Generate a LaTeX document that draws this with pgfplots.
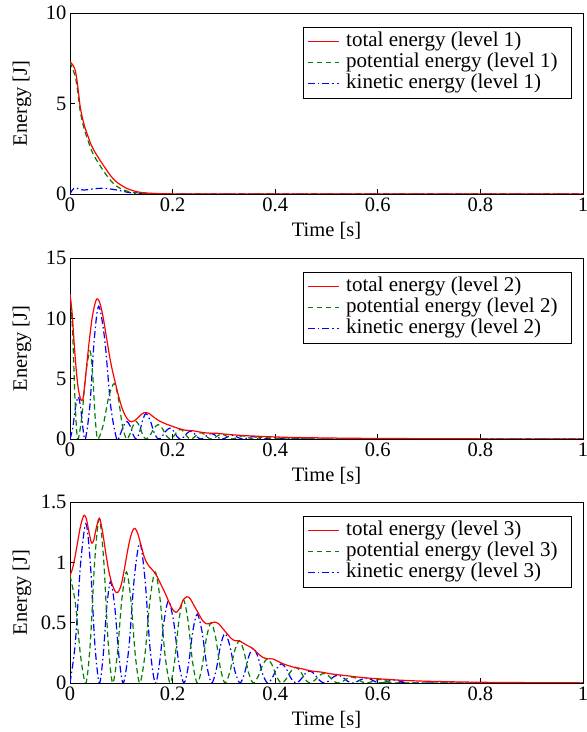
\documentclass[border=0pt]{standalone}
\usepackage{fontspec}
\setmainfont{Liberation Serif}
\usepackage{pgfplots}
\usepackage{pgfplotstable}
\pgfplotsset{compat=1.18}

\definecolor{mred}{rgb}{1,0,0}
\definecolor{mgreen}{rgb}{0,0.5,0}
\definecolor{mblue}{rgb}{0,0,1}

% ---------------- level 1 ----------------
\pgfplotstableread{
t E
0 7.30
0.005 7.15
0.010 6.85
0.014 6.2
0.017 5.5
0.020 4.8
0.025 4.1
0.030 3.6
0.035 3.2
0.040 2.8
0.045 2.5
0.050 2.25
0.060 1.8
0.070 1.38
0.080 0.98
0.090 0.68
0.100 0.48
0.110 0.32
0.120 0.21
0.130 0.13
0.140 0.08
0.160 0.035
0.180 0.015
0.200 0.006
0.250 0.002
0.300 0
1.000 0
}\TotA
\pgfplotstableread{
t E
0 7.30
0.005 6.9
0.010 6.53
0.014 5.87
0.017 5.22
0.020 4.55
0.025 3.88
0.030 3.37
0.035 2.96
0.040 2.55
0.045 2.22
0.050 1.96
0.060 1.5
0.070 1.08
0.080 0.72
0.090 0.45
0.100 0.28
0.110 0.17
0.120 0.1
0.130 0.065
0.140 0.045
0.160 0.025
0.180 0.012
0.200 0.005
0.250 0.002
0.300 0
1 0
}\PotA
\pgfplotstableread{
t E
0 0
0.004 0.2
0.008 0.32
0.012 0.33
0.018 0.27
0.025 0.22
0.035 0.24
0.045 0.28
0.055 0.31
0.065 0.31
0.075 0.29
0.085 0.25
0.095 0.2
0.105 0.14
0.115 0.08
0.125 0.04
0.135 0.015
0.150 0.005
0.200 0
1 0
}\KinA

% ---------------- level 2 ----------------
\pgfplotstableread{
t E
0 12.0
0.004 10.5
0.008 8.0
0.012 5.8
0.016 4.2
0.020 3.4
0.022 3.2
0.025 3.3
0.028 4.2
0.033 6.3
0.038 8.3
0.043 10.0
0.048 11.1
0.052 11.6
0.056 11.5
0.060 11.0
0.065 10.0
0.070 8.7
0.077 6.9
0.082 5.8
0.087 4.9
0.092 4.0
0.097 3.2
0.102 2.5
0.107 2.0
0.112 1.65
0.116 1.48
0.120 1.43
0.125 1.5
0.131 1.7
0.138 2.0
0.144 2.17
0.148 2.2
0.154 2.12
0.160 1.92
0.167 1.7
0.175 1.48
0.185 1.28
0.195 1.12
0.205 0.97
0.215 0.83
0.225 0.73
0.233 0.70
0.240 0.68
0.250 0.60
0.260 0.53
0.270 0.49
0.280 0.48
0.288 0.47
0.298 0.42
0.310 0.37
0.325 0.32
0.340 0.28
0.360 0.24
0.380 0.20
0.400 0.17
0.430 0.13
0.460 0.11
0.500 0.085
0.550 0.06
0.600 0.045
0.700 0.025
0.800 0.012
0.900 0.006
1.000 0.003
}\TotB
\pgfplotstableread{
t E
0 12
0.005 9
0.010 3
0.015 0
0.023 1.825
0.031 5.475
0.039 7.3
0.044 5.475
0.049 1.825
0.054 0
0.0647 1.15
0.0753 3.45
0.086 4.6
0.094 3.45
0.102 1.15
0.110 0
0.1163 0.3625
0.1227 1.0875
0.129 1.45
0.1353 1.0875
0.1417 0.3625
0.148 0
0.156 0.3
0.164 0.9
0.172 1.2
0.1797 0.9
0.1873 0.3
0.195 0
0.2017 0.2
0.2083 0.6
0.215 0.8
0.2217 0.6
0.2283 0.2
0.235 0
0.2417 0.13
0.2483 0.39
0.255 0.52
0.2617 0.39
0.2683 0.13
0.275 0
0.282 0.1
0.289 0.3
0.296 0.4
0.3027 0.3
0.3093 0.1
0.316 0
0.323 0.0675
0.330 0.2025
0.337 0.27
0.3437 0.2025
0.3503 0.0675
0.357 0
0.364 0.04
0.371 0.12
0.378 0.16
0.3847 0.12
0.3913 0.04
0.398 0
0.4053 0.0225
0.4127 0.0675
0.42 0.09
0.4267 0.0675
0.4333 0.0225
0.44 0
0.4467 0.0125
0.4533 0.0375
0.46 0.05
0.4667 0.0375
0.4733 0.0125
0.48 0
1 0
}\PotB
\pgfplotstableread{
t E
0 0
0.0053 0.875
0.0107 2.625
0.016 3.5
0.0207 2.625
0.0253 0.875
0.030 0
0.0387 2.75
0.0473 8.25
0.056 11.0
0.0677 8.25
0.0793 2.75
0.091 0
0.0977 0.3625
0.1043 1.0875
0.111 1.45
0.117 1.0875
0.123 0.3625
0.129 0
0.1353 0.525
0.1417 1.575
0.148 2.1
0.156 1.575
0.164 0.525
0.172 0
0.1797 0.225
0.1873 0.675
0.195 0.9
0.2017 0.675
0.2083 0.225
0.215 0
0.2217 0.1625
0.2283 0.4875
0.235 0.65
0.2417 0.4875
0.2483 0.1625
0.255 0
0.2617 0.1125
0.2683 0.3375
0.275 0.45
0.282 0.3375
0.289 0.1125
0.296 0
0.3027 0.075
0.3093 0.225
0.316 0.3
0.323 0.225
0.330 0.075
0.337 0
0.3437 0.05
0.3503 0.15
0.357 0.2
0.364 0.15
0.371 0.05
0.378 0
0.3853 0.03
0.3927 0.09
0.40 0.12
0.4067 0.09
0.4133 0.03
0.42 0
0.4267 0.0175
0.4333 0.0525
0.44 0.07
0.4467 0.0525
0.4533 0.0175
0.46 0
1 0
}\KinB

% ---------------- level 3 ----------------
\pgfplotstableread{
t E
0 0.89
0.005 0.95
0.010 1.05
0.015 1.17
0.020 1.29
0.025 1.37
0.028 1.39
0.032 1.36
0.037 1.25
0.042 1.16
0.046 1.18
0.051 1.28
0.056 1.36
0.059 1.35
0.064 1.24
0.070 1.07
0.076 0.92
0.082 0.82
0.088 0.76
0.093 0.75
0.099 0.8
0.105 0.92
0.112 1.09
0.118 1.21
0.123 1.27
0.127 1.28
0.132 1.24
0.138 1.15
0.145 1.04
0.152 0.98
0.158 0.95
0.164 0.92
0.170 0.88
0.178 0.81
0.186 0.74
0.194 0.66
0.200 0.61
0.207 0.585
0.214 0.62
0.221 0.69
0.228 0.715
0.234 0.70
0.242 0.64
0.250 0.58
0.258 0.52
0.266 0.49
0.274 0.495
0.282 0.505
0.290 0.49
0.298 0.45
0.306 0.41
0.314 0.37
0.322 0.35
0.330 0.35
0.338 0.33
0.346 0.31
0.355 0.29
0.365 0.25
0.375 0.215
0.385 0.20
0.395 0.20
0.405 0.18
0.415 0.16
0.425 0.145
0.437 0.13
0.450 0.12
0.470 0.10
0.490 0.09
0.510 0.075
0.540 0.06
0.570 0.045
0.600 0.035
0.650 0.022
0.700 0.014
0.800 0.006
0.900 0.003
1.000 0.001
}\TotC
\pgfplotstableread{
t E
0 0.89
0.0103 0.6675
0.0207 0.2225
0.031 0
0.0397 0.34
0.0483 1.02
0.057 1.36
0.0657 1.02
0.0743 0.34
0.083 0
0.092 0.23
0.101 0.69
0.110 0.92
0.1187 0.69
0.1273 0.23
0.136 0
0.146 0.23
0.156 0.69
0.166 0.92
0.1757 0.69
0.1853 0.23
0.195 0
0.2037 0.1725
0.2123 0.5175
0.221 0.69
0.230 0.5175
0.239 0.1725
0.248 0
0.257 0.125
0.266 0.375
0.275 0.5
0.284 0.375
0.293 0.125
0.302 0
0.3113 0.0875
0.3207 0.2625
0.33 0.35
0.339 0.2625
0.348 0.0875
0.357 0
0.3663 0.05
0.3757 0.15
0.385 0.2
0.394 0.15
0.403 0.05
0.412 0
0.4213 0.0325
0.4307 0.0975
0.44 0.13
0.449 0.0975
0.458 0.0325
0.467 0
0.4763 0.02
0.4857 0.06
0.495 0.08
0.504 0.06
0.513 0.02
0.522 0
0.5313 0.0125
0.5407 0.0375
0.55 0.05
0.559 0.0375
0.568 0.0125
0.577 0
0.5863 0.0075
0.5957 0.0225
0.605 0.03
0.614 0.0225
0.623 0.0075
0.632 0
1 0
}\PotC
\pgfplotstableread{
t E
0 0
0.0103 0.33
0.0207 0.99
0.031 1.32
0.0397 0.99
0.0483 0.33
0.057 0
0.0643 0.21
0.0717 0.63
0.079 0.84
0.0873 0.63
0.0957 0.21
0.104 0
0.1147 0.29
0.1253 0.87
0.136 1.16
0.146 0.87
0.156 0.29
0.166 0
0.1747 0.17
0.1833 0.51
0.192 0.68
0.202 0.51
0.212 0.17
0.222 0
0.2307 0.1425
0.2393 0.4275
0.248 0.57
0.2573 0.4275
0.2667 0.1425
0.276 0
0.2847 0.1025
0.2933 0.3075
0.302 0.41
0.3117 0.3075
0.3213 0.1025
0.331 0
0.3397 0.0725
0.3483 0.2175
0.357 0.29
0.3663 0.2175
0.3757 0.0725
0.385 0
0.394 0.04
0.403 0.12
0.412 0.16
0.4213 0.12
0.4307 0.04
0.44 0
0.449 0.025
0.458 0.075
0.467 0.1
0.4763 0.075
0.4857 0.025
0.495 0
0.504 0.0163
0.513 0.0488
0.522 0.065
0.5313 0.0488
0.5407 0.0163
0.55 0
0.559 0.01
0.568 0.03
0.577 0.04
0.5863 0.03
0.5957 0.01
0.605 0
0.614 0.0063
0.623 0.0188
0.632 0.025
0.6413 0.0188
0.6507 0.0063
0.66 0
1 0
}\KinC

\tikzset{
  tot/.style={draw=mred, solid, line width=1.2bp, smooth, mark=none},
  pot/.style={draw=mgreen, line width=1.2bp, dash pattern=on 5.5bp off 3.5bp, smooth, mark=none},
  kin/.style={draw=mblue, line width=1.2bp, dash pattern=on 7bp off 3bp on 1.5bp off 3bp, smooth, mark=none},
  legtext/.style={anchor=west, inner sep=0pt, text=black, font=\fontsize{21bp}{25bp}\selectfont},
}

\pgfplotsset{
  energyaxis/.style={
    scale only axis, width=513bp, height=181bp,
    xmin=0, xmax=1, ymin=0,
    xtick={0,0.2,0.4,0.6,0.8,1},
    tick align=inside, xtick pos=left, ytick pos=left,
    major tick length=5bp,
    axis line style={line width=0.9bp},
    every tick/.style={black, line width=0.7bp},
    /pgf/number format/assume math mode=true,
    tick label style={font=\fontsize{20.5bp}{24bp}\selectfont},
    label style={font=\fontsize{20.5bp}{24bp}\selectfont},
    xlabel={Time [s]}, ylabel={Energy [J]},
    xlabel style={at={(axis description cs:0.5,-0.1547)}, anchor=north, inner sep=0pt},
    ylabel style={at={(axis description cs:-0.0936,0.5)}, anchor=center, inner sep=0pt},
  },
}

% one filled bar of a legend sample: colour, row height, start and end offsets
\newcommand{\legbar}[4]{%
  \fill[#1] ([xshift=#3,yshift=-0.6bp]axis description cs:0.4639,#2) rectangle ([xshift=#4,yshift=0.6bp]axis description cs:0.4639,#2);%
}
% legend: box, line samples drawn as filled bars, texts
\newcommand{\energylegend}[1]{%
  \draw[black, line width=0.6bp, fill=white] (axis description cs:0.4542,0.5304) rectangle (axis description cs:0.9766,0.9227);
  \legbar{mred}{0.8414}{0bp}{31bp}
  \legbar{mgreen}{0.7254}{0bp}{5.5bp}
  \legbar{mgreen}{0.7254}{9bp}{14.5bp}
  \legbar{mgreen}{0.7254}{18bp}{23.5bp}
  \legbar{mgreen}{0.7254}{27bp}{31bp}
  \legbar{mblue}{0.6116}{0bp}{7bp}
  \legbar{mblue}{0.6116}{10bp}{11.5bp}
  \legbar{mblue}{0.6116}{14.5bp}{21.5bp}
  \legbar{mblue}{0.6116}{24.5bp}{26bp}
  \legbar{mblue}{0.6116}{29bp}{31bp}
  \node[legtext] at (axis description cs:0.538,0.8414) {total energy (level #1)};
  \node[legtext] at (axis description cs:0.538,0.7254) {potential energy (level #1)};
  \node[legtext] at (axis description cs:0.538,0.6116) {kinetic energy (level #1)};
}

\begin{document}
\begin{tikzpicture}
\begin{axis}[energyaxis, at={(70bp,538bp)}, anchor=south west, ymax=10, ytick={0,5,10}]
\addplot[kin] table {\KinA};
\addplot[pot] table {\PotA};
\addplot[tot] table {\TotA};
\energylegend{1}
\end{axis}
\begin{axis}[energyaxis, at={(70bp,293bp)}, anchor=south west, ymax=15, ytick={0,5,10,15}]
\addplot[kin] table {\KinB};
\addplot[pot] table {\PotB};
\addplot[tot] table {\TotB};
\energylegend{2}
\end{axis}
\begin{axis}[energyaxis, at={(70bp,49bp)}, anchor=south west, ymax=1.5, ytick={0,0.5,1,1.5}]
\addplot[kin] table {\KinC};
\addplot[pot] table {\PotC};
\addplot[tot] table {\TotC};
\energylegend{3}
\end{axis}
\pgfresetboundingbox
\path[use as bounding box] (0,0) rectangle (587bp,732bp);
\end{tikzpicture}
\end{document}
